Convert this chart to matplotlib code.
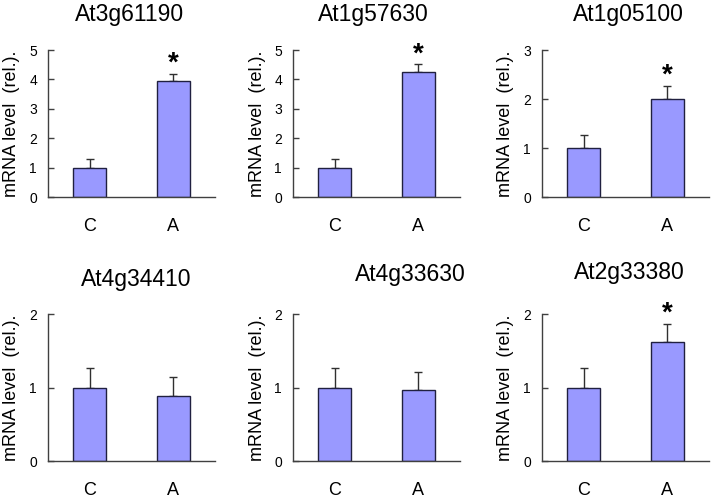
import matplotlib.pyplot as plt

plt.rcParams['font.family'] = ['Liberation Sans', 'DejaVu Sans']

GENES = ["At3g61190", "At1g57630", "At1g05100", "At4g34410", "At4g33630", "At2g33380"]
GROUPS = ["C", "A"]
MEANS = [
    [1.0, 3.93],
    [1.0, 4.26],
    [1.0, 2.01],
    [1.0, 0.89],
    [1.0, 0.96],
    [1.0, 1.62],
]
ERRORS = [
    [0.28, 0.25],
    [0.28, 0.25],
    [0.26, 0.25],
    [0.26, 0.25],
    [0.26, 0.25],
    [0.26, 0.24],
]
SIGNIFICANT = [
    [False, True],
    [False, True],
    [False, True],
    [False, False],
    [False, False],
    [False, True],
]
Y_MAX = [5, 5, 3, 2, 2, 2]
Y_LABEL = "mRNA level  (rel.)."

BAR_COLOR = "#9999ff"
AXIS_COLOR = "#404040"

# panel layout in figure fractions (left, bottom, width, height)
W, H = 711, 498
LEFTS = [48, 293, 542]
TOPS = [50, 314]
AX_W, AX_H = 167, 147
TITLE_PAD = [21, 21, 21, 20, 24, 25]
TITLE_X = [0.49, 0.48, 0.52, 0.53, 0.70, 0.52]

fig = plt.figure(figsize=(W / 100, H / 100), dpi=100)

for i, gene in enumerate(GENES):
    row, col = divmod(i, 3)
    rect = [LEFTS[col] / W, 1 - (TOPS[row] + AX_H) / H, AX_W / W, AX_H / H]
    ax = fig.add_axes(rect)

    x = range(len(GROUPS))
    ax.bar(x, MEANS[i], width=0.4, color=BAR_COLOR, edgecolor="#202040",
           linewidth=1.0, zorder=2)
    ax.errorbar(x, MEANS[i], yerr=[[0] * len(GROUPS), ERRORS[i]], fmt="none",
                ecolor="#303030", elinewidth=1.0, capsize=3, capthick=1.0, zorder=1)

    for j, sig in enumerate(SIGNIFICANT[i]):
        if sig:
            ax.annotate("*", xy=(j, MEANS[i][j] + ERRORS[i][j]), xytext=(0, -2),
                        textcoords="offset points", ha="center", va="bottom",
                        fontsize=20, fontweight="bold", annotation_clip=False)

    ax.set_xlim(-0.5, 1.5)
    ax.set_ylim(0, Y_MAX[i])
    ax.set_yticks(range(0, Y_MAX[i] + 1))
    ax.set_xticks(list(x))
    ax.set_xticklabels(GROUPS, fontsize=13)
    ax.tick_params(axis="x", length=0, pad=15)
    ax.tick_params(axis="y", direction="in", length=4, width=1.0,
                   color=AXIS_COLOR, labelsize=10, pad=8)

    for side in ("top", "right"):
        ax.spines[side].set_visible(False)
    for side in ("left", "bottom"):
        ax.spines[side].set_color(AXIS_COLOR)
        ax.spines[side].set_linewidth(1.0)

    ax.set_ylabel(Y_LABEL, fontsize=13, va="center")
    ax.yaxis.set_label_coords(-36 / AX_W, 0.5)
    ax.set_title(gene, fontsize=16.5, pad=TITLE_PAD[i], x=TITLE_X[i])

fig.savefig("out.png", dpi=100)
